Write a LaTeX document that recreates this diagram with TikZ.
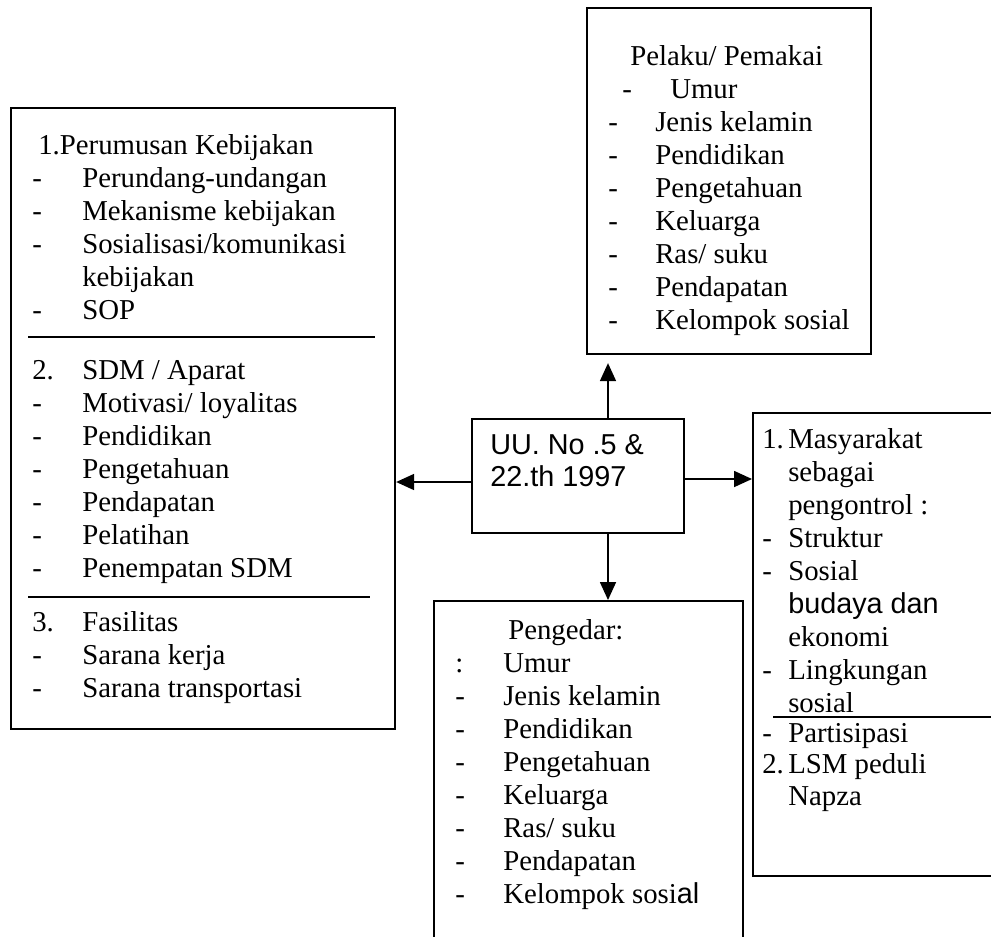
\documentclass[tikz,border=0pt]{standalone}
\usepackage{fontspec}
\setmainfont{Liberation Serif}
\newfontfamily\arial{Liberation Sans}
\usetikzlibrary{arrows.meta}
\tikzset{ >={Triangle[length=13.5pt,width=12pt]} }
\def\px{0.75pt}   % one pixel of the scan
\def\gap{33}      % distance between two lines of text
\def\dashL{32}    % dashes in the left box
\def\textL{82}    % text in the left box

\begin{document}
\begin{tikzpicture}[x=\px,y=-\px,
    box/.style={draw, line width=1.6pt, inner sep=0pt, anchor=north west},
    itm/.style={anchor=west, inner sep=0pt, text height=15pt, text depth=4.3pt,
                font=\fontsize{21.6pt}{24pt}\selectfont},
    sans/.style={itm, font=\fontsize{21.6pt}{24pt}\selectfont\arial},
    sep/.style={line width=1.2pt},
    link/.style={->, line width=1.3pt}]
    % Fix the page and cut what runs over it
    \useasboundingbox (0,0) rectangle (991,936);
    \clip (0,0) rectangle (991,936);
    % The boxes
    \node[box, minimum width=384*\px, minimum height=621*\px] (lbox) at (10,107) {};  % Kebijakan, SDM, Fasilitas
    \node[box, minimum width=284*\px, minimum height=346*\px] (pbox) at (586,7) {};   % Pelaku/ Pemakai
    \node[box, minimum width=212*\px, minimum height=114*\px] (ctr)  at (471,418) {}; % Undang-undang
    \node[box, minimum width=260*\px, minimum height=463*\px] (rbox) at (752,412) {}; % Masyarakat
    \node[box, minimum width=309*\px, minimum height=360*\px] (gbox) at (433,600) {}; % Pengedar
    % Arrows out of the centre box
    \coordinate (upx) at (608,0);
    \coordinate (lvl) at (0,482);
    \coordinate (rvl) at (0,479);
    \draw[link, shorten >=6pt] (ctr.north -| upx) -- (pbox.south -| upx);
    \draw[link] (ctr.south -| upx) -- (gbox.north -| upx);
    \draw[link] (ctr.west |- lvl) -- (lbox.east |- lvl);
    \draw[link] (ctr.east |- rvl) -- (rbox.west |- rvl);
    % Centre text
    \node[sans] (uu1) at (490,447) {UU. No .5 \&};
    \node[sans] (uu2) at (490,479) {22.th 1997};
    % Left box, part 1
    \node[itm] (k0) at (38,147) {1.Perumusan Kebijakan};
    \foreach \txt [count=\i] in {Perundang-undangan, Mekanisme kebijakan,
        {Sosialisasi/komunikasi}, kebijakan, SOP}
        \node[itm] (k\i) at (\textL,147+\i*\gap) {\txt};
    \foreach \i in {1,2,3,5}
        \node[itm] (kd\i) at (\dashL,147+\i*\gap) {-};
    \draw[sep] (28,337) -- (375,337);
    % Left box, part 2
    \node[itm] (sd0) at (\dashL,372) {2.};
    \node[itm] (s0)  at (\textL,372) {SDM / Aparat};
    \foreach \txt [count=\i] in {{Motivasi/ loyalitas}, Pendidikan, Pengetahuan,
        Pendapatan, Pelatihan, Penempatan SDM}{
        \node[itm] (sd\i) at (\dashL,372+\i*\gap) {-};
        \node[itm] (s\i)  at (\textL,372+\i*\gap) {\txt};
    }
    \draw[sep] (28,597) -- (370,597);
    % Left box, part 3
    \node[itm] (fd0) at (\dashL,624) {3.};
    \node[itm] (f0)  at (\textL,624) {Fasilitas};
    \foreach \txt [count=\i] in {Sarana kerja, Sarana transportasi}{
        \node[itm] (fd\i) at (\dashL,624+\i*\gap) {-};
        \node[itm] (f\i)  at (\textL,624+\i*\gap) {\txt};
    }
    % Pelaku/ Pemakai
    \node[itm] (p0)  at (630,58) {Pelaku/ Pemakai};
    \node[itm] (pd1) at (622,91) {-};
    \node[itm] (p1)  at (670,91) {Umur};
    \foreach \txt [count=\i from 2] in {Jenis kelamin, Pendidikan, Pengetahuan,
        Keluarga, {Ras/ suku}, Pendapatan, Kelompok sosial}{
        \node[itm] (pd\i) at (608,58+\i*\gap) {-};
        \node[itm] (p\i)  at (655,58+\i*\gap) {\txt};
    }
    % Pengedar
    \node[itm] (g0)  at (508,632) {Pengedar:};
    \node[itm] (gd1) at (455,665) {:};
    \node[itm] (g1)  at (503,665) {Umur};
    \foreach \txt [count=\i from 2] in {Jenis kelamin, Pendidikan, Pengetahuan,
        Keluarga, {Ras/ suku}, Pendapatan, {Kelompok sosi{\arial al}}}{
        \node[itm] (gd\i) at (455,632+\i*\gap) {-};
        \node[itm] (g\i)  at (503,632+\i*\gap) {\txt};
    }
    % Masyarakat
    \foreach \mk/\txt [count=\i] in {1./Masyarakat, /sebagai, /{pengontrol :},
        -/Struktur, -/Sosial, /{\arial budaya dan}, /ekonomi, -/Lingkungan, /sosial}{
        \node[itm] (md\i) at (762,408+\i*\gap) {\mk};
        \node[itm] (m\i)  at (788,408+\i*\gap) {\txt};
    }
    \draw[sep] (773,717) -- (991,717);
    \node[itm] (md10) at (762,735) {-};
    \node[itm] (m10)  at (788,735) {Partisipasi};
    \node[itm] (md11) at (762,766) {2.};
    \node[itm] (m11)  at (788,766) {LSM peduli};
    \node[itm] (m12)  at (788,798) {Napza};
\end{tikzpicture}
\end{document}
